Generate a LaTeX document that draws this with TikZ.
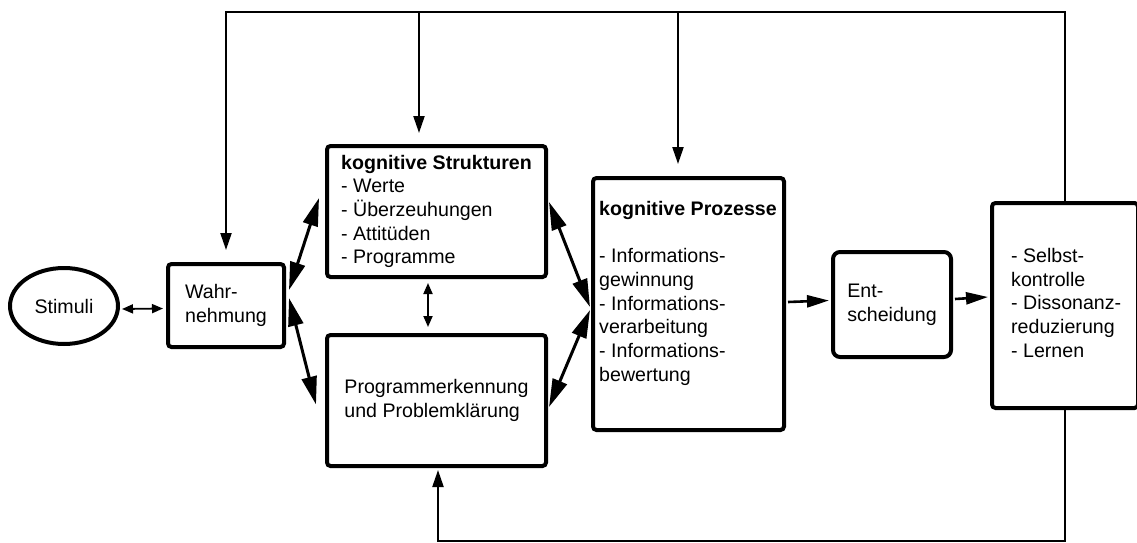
\documentclass[tikz,border=0pt]{standalone}
\usepackage{fontspec}
\setmainfont{Liberation Sans}
\usetikzlibrary{arrows.meta,calc,shapes.geometric}
\begin{document}
\begin{tikzpicture}[x=1pt,y=-1pt,
  every node/.style={font=\fontsize{19.6}{23.7}\selectfont},
  box/.style={draw, line width=4pt, rounded corners=3.5pt, fill=white, align=left, inner sep=0pt},
  big/.style={line width=3pt, {Triangle[length=28pt,width=15pt]}-{Triangle[length=28pt,width=15pt]}},
  small/.style={line width=1.8pt, {Triangle[length=11pt,width=9pt]}-{Triangle[length=11pt,width=9pt]}},
  fb/.style={line width=2.2pt, -{Triangle[length=17pt,width=11pt]}},
  flow/.style={line width=2.6pt, -{Triangle[length=22pt,width=12pt]}},
  txt/.style={anchor=north west, align=left, inner sep=0pt}
]
\useasboundingbox (0,0) rectangle (1137,543);
\fill[white] (0,0) rectangle (1137,543);

\node[draw, ellipse, line width=4pt, minimum width=108pt, minimum height=76pt, inner sep=0pt] (S) at (64,306) {Stimuli};
\node[box, minimum width=116pt, minimum height=83pt] (W) at (226,305.5) {Wahr-\\nehmung};
\node[box, minimum width=219pt, minimum height=131pt] (kS) at (436.5,211.5) {\textbf{kognitive Strukturen}\\- Werte\\- Überzeuhungen\\- Attitüden\\- Programme};
\node[box, minimum width=219pt, minimum height=131pt] (PE) at (436.5,400.5) {Programmerkennung\\und Problemklärung};
\node[box, minimum width=191pt, minimum height=252pt] (kP) at (688.5,304) {};
\node[txt] (kPt) at (599,201) {\textbf{kognitive Prozesse}\\[23.7pt]- Informations-\\gewinnung\\- Informations-\\verarbeitung\\- Informations-\\bewertung};
\node[box, rounded corners=7pt, minimum width=118pt, minimum height=105pt] (E) at (892,304.5) {Ent-\\scheidung};
\node[box, minimum width=146pt, minimum height=205pt] (Sb) at (1065,305.5) {};
\node[txt] (Sbt) at (1011,248) {- Selbst-\\kontrolle\\- Dissonanz-\\reduzierung\\- Lernen};

\draw[small] ($(S.east)+(2,3)$) -- ($(W.west)+(-3,3)$);
\draw[big] ($(W.east)+(3,-15.5)$) -- ($(kS.west)+(-6,-13.5)$);
\draw[big] ($(W.east)+(3,-7.5)$) -- ($(PE.west)+(-9,4)$);
\draw[small] ($(kS.south)+(-8.5,4)$) -- ($(PE.north)+(-8.5,-6)$);
\draw[big] ($(kS.east)+(1,-9.5)$) -- ($(kP.west)+(-1,3)$);
\draw[big] ($(kP.west)+(-1,6)$) -- ($(PE.east)+(1,6.5)$);
\draw[flow] ($(kP.east)+(2,-2)$) -- ($(E.west)+(-2,-4)$);
\draw[flow] ($(E.east)+(2,-5.5)$) -- ($(Sb.west)+(-2,-8.5)$);

\coordinate (tl) at (226,12);
\coordinate (bl) at (438,541);
\draw[fb] (Sb.north) |- (tl) -- ($(W.north)+(0,-12)$);
\coordinate (kSin) at ($(kS.north)+(-17.5,-11)$);
\draw[fb] (kSin |- tl) -- (kSin);
\coordinate (kPin) at ($(kP.north)+(-10.5,-12)$);
\draw[fb] (kPin |- tl) -- (kPin);
\draw[fb] (Sb.south) |- (bl) -- ($(PE.south)+(1.5,2)$);
\end{tikzpicture}
\end{document}
